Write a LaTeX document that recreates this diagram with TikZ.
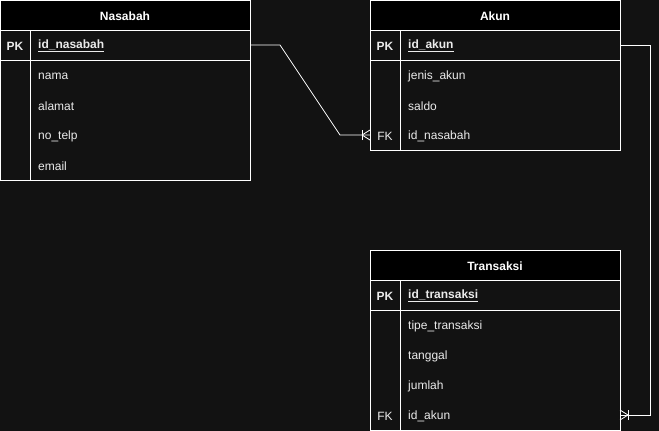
\documentclass[tikz,border=0pt]{standalone}
\usepackage{fontspec}
\setmainfont{Liberation Sans}
\begin{document}
\begin{tikzpicture}[x=1pt,y=-1pt,
  tb/.style={draw=white,line width=0.9pt},
  hd/.style={text=white,font=\bfseries\fontsize{12}{14}\selectfont,anchor=center},
  fld/.style={text={rgb,255:red,235;green,235;blue,235},font=\fontsize{12}{14}\selectfont,anchor=west,inner sep=0pt},
  key/.style={text={rgb,255:red,235;green,235;blue,235},font=\bfseries\fontsize{12}{14}\selectfont,anchor=center},
  conn/.style={draw=white,line width=0.8pt}]
\fill[fill={rgb,255:red,18;green,18;blue,18}] (0,0) rectangle (659,431);
\useasboundingbox (0,0) rectangle (659,431);
% Nasabah
\fill[black] (0.5,0.5) rectangle (250,30);
\draw[tb] (0.5,0.5) rectangle (250,180);
\draw[tb] (0.5,30) -- (250,30);
\draw[tb] (0.5,60) -- (250,60);
\draw[tb] (30,30) -- (30,180);
\node[hd] (nh) at (125,16) {Nasabah};
\node[key] (npk) at (15,46) {PK};
\node[fld] (n1) at (38,46) {\bfseries\underline{id\_nasabah}};
\node[fld] (n2) at (38,76) {nama};
\node[fld] (n3) at (38,106) {alamat};
\node[fld] (n4) at (38,136) {no\_telp};
\node[fld] (n5) at (38,166) {email};
% Akun
\fill[black] (370,0.5) rectangle (620,30);
\draw[tb] (370,0.5) rectangle (620,150);
\draw[tb] (370,30) -- (620,30);
\draw[tb] (370,60) -- (620,60);
\draw[tb] (400,30) -- (400,150);
\node[hd] (ah) at (495,16) {Akun};
\node[key] (apk) at (385,46) {PK};
\node[fld] (a1) at (408,46) {\bfseries\underline{id\_akun}};
\node[fld] (a2) at (408,76) {jenis\_akun};
\node[fld] (a3) at (408,106) {saldo};
\node[key,font=\fontsize{12}{14}\selectfont] (afk) at (385,136) {FK};
\node[fld] (a4) at (408,136) {id\_nasabah};
% Transaksi
\fill[black] (370,250) rectangle (620,280);
\draw[tb] (370,250) rectangle (620,430.5);
\draw[tb] (370,280) -- (620,280);
\draw[tb] (370,310) -- (620,310);
\draw[tb] (400,280) -- (400,430.5);
\node[hd] (th) at (495,266) {Transaksi};
\node[key] (tpk) at (385,296) {PK};
\node[fld] (t1) at (408,296) {\bfseries\underline{id\_transaksi}};
\node[fld] (t2) at (408,326) {tipe\_transaksi};
\node[fld] (t3) at (408,356) {tanggal};
\node[fld] (t4) at (408,386) {jumlah};
\node[key,font=\fontsize{12}{14}\selectfont] (tfk) at (385,416) {FK};
\node[fld] (t5) at (408,416) {id\_akun};
% anchors for connectors
\coordinate (c1s) at (250,45);
\coordinate (c1e) at (370,135);
\coordinate (c2s) at (620,45);
\coordinate (c2e) at (620,415);
% connector Nasabah -> Akun
\draw[conn] (c1s) -- ++(30,0) -- (340,135) -- (c1e);
\draw[conn] ([xshift=-8pt]c1e) -- ([yshift=-5pt]c1e);
\draw[conn] ([xshift=-8pt]c1e) -- ([yshift=5pt]c1e);
\draw[conn] ([xshift=-8pt,yshift=-5pt]c1e) -- ([xshift=-8pt,yshift=5pt]c1e);
% connector Akun -> Transaksi
\draw[conn] (c2s) -- ++(30,0) -- (650,415) -- (c2e);
\draw[conn] ([xshift=8pt]c2e) -- ([yshift=-5pt]c2e);
\draw[conn] ([xshift=8pt]c2e) -- ([yshift=5pt]c2e);
\draw[conn] ([xshift=8pt,yshift=-5pt]c2e) -- ([xshift=8pt,yshift=5pt]c2e);
\end{tikzpicture}
\end{document}
